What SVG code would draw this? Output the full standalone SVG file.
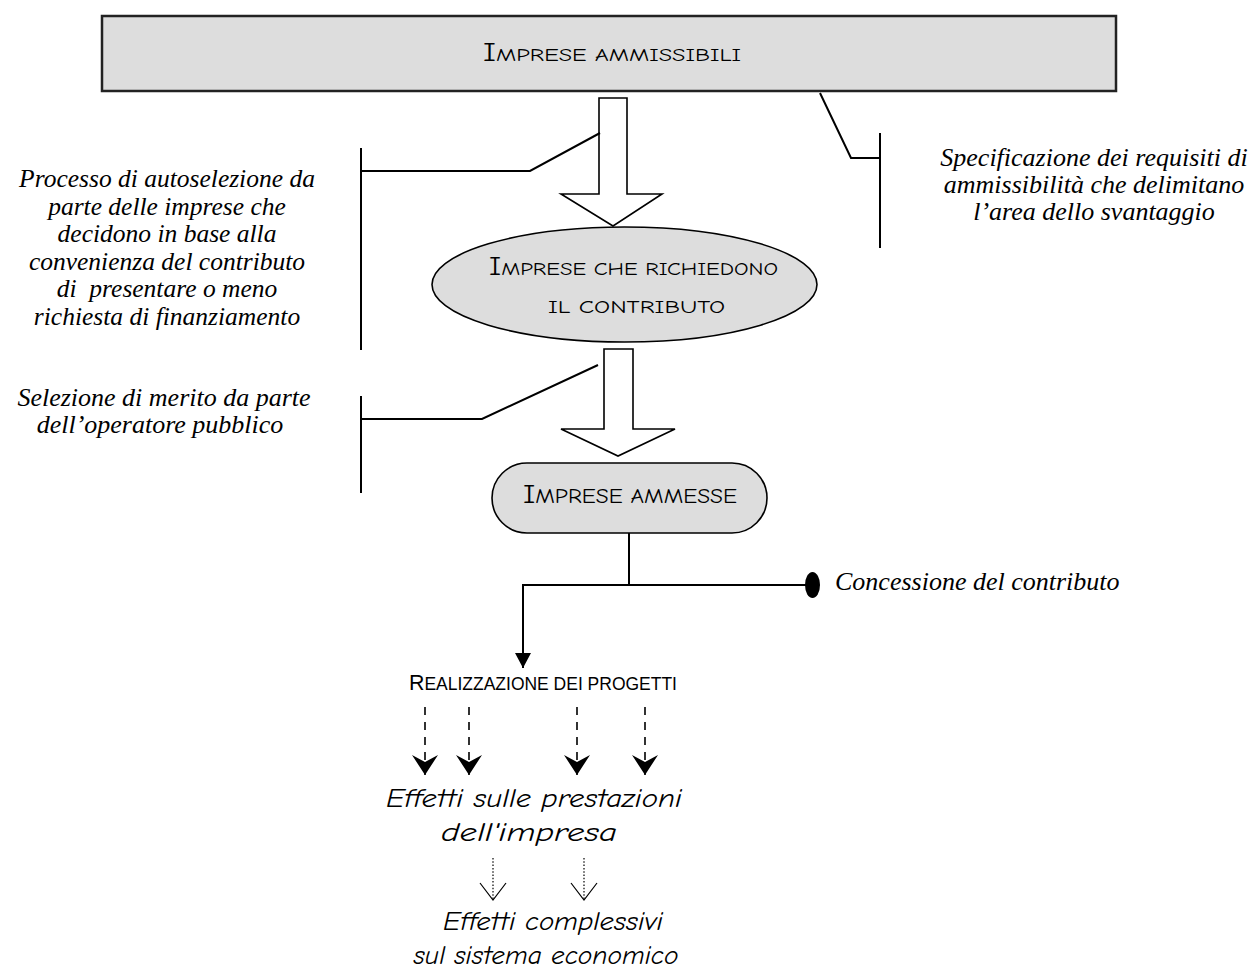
<svg xmlns="http://www.w3.org/2000/svg" width="1250" height="976" viewBox="0 0 1250 976">
<style>
.box{fill:#dddddd;stroke:#000;stroke-width:1.6}
.cap{font-family:"Comic Sans MS","Comic Neue","Open Sans",sans-serif;fill:#000}
.ser{font-family:"Liberation Serif","Times New Roman",serif;font-style:italic;font-size:26px;fill:#000}
.com{font-family:"Comic Sans MS","Comic Neue","Open Sans",sans-serif;font-style:italic;font-size:26px;fill:#000}
.nar{font-family:"Liberation Sans Narrow","Liberation Sans",Arial,sans-serif;fill:#000}
.ln{fill:none;stroke:#000;stroke-width:2}
.big{fill:#fff;stroke:#000;stroke-width:1.6;stroke-linejoin:miter}
.dash{fill:none;stroke:#000;stroke-width:1.6;stroke-dasharray:8 7}
.dot{fill:none;stroke:#000;stroke-width:1.2;stroke-dasharray:1.5 1.8}
</style>
<defs>
<marker id="tri" viewBox="0 0 15 16" refX="15" refY="8" markerWidth="15" markerHeight="16" markerUnits="userSpaceOnUse" orient="auto">
<path d="M0,0 L15,8 L0,16 z" fill="#000"/>
</marker>
<marker id="stealth" viewBox="0 0 20 26" refX="20" refY="13" markerWidth="20" markerHeight="26" markerUnits="userSpaceOnUse" orient="auto">
<path d="M0,0 L20,13 L0,26 L7,13 z" fill="#000"/>
</marker>
<marker id="vopen" viewBox="-1 -1 19 28" refX="17" refY="13" markerWidth="19" markerHeight="28" markerUnits="userSpaceOnUse" orient="auto" overflow="visible">
<path d="M0,0 L17,13 L0,26" fill="none" stroke="#000" stroke-width="1.2"/>
</marker>
</defs>
<rect width="1250" height="976" fill="#fff"/>

<g id="connectors">
<polygon class="big" points="599,98 627,98 627,194 662,194 613,226 561,194 599,194"/>
<polygon class="big" points="604,349 633,349 633,429 675,429 618,456 561,429 604,429"/>
<polyline class="ln" points="361,148 361,350"/>
<polyline class="ln" points="361,171 530,171 600,133"/>
<polyline class="ln" points="880,133 880,248"/>
<polyline class="ln" points="880,158 851,158 820,93"/>
<polyline class="ln" points="361,396 361,493"/>
<polyline class="ln" points="361,419 482,419 598,365"/>
<line class="ln" x1="629" y1="533" x2="629" y2="585"/>
<line class="ln" x1="522" y1="585" x2="806" y2="585"/>
<ellipse cx="812.5" cy="585" rx="7.5" ry="13" fill="#000"/>
<line class="ln" x1="523" y1="584" x2="523" y2="668" marker-end="url(#tri)"/>
<line class="dash" x1="425" y1="707" x2="425" y2="775" marker-end="url(#stealth)"/>
<line class="dash" x1="469" y1="707" x2="469" y2="775" marker-end="url(#stealth)"/>
<line class="dash" x1="577" y1="707" x2="577" y2="775" marker-end="url(#stealth)"/>
<line class="dash" x1="645" y1="707" x2="645" y2="775" marker-end="url(#stealth)"/>
<line class="dot" x1="493" y1="858" x2="493" y2="900" marker-end="url(#vopen)"/>
<line class="dot" x1="584" y1="858" x2="584" y2="900" marker-end="url(#vopen)"/>
</g>

<g id="imprese-ammissibili">
<rect x="102" y="16" width="1014" height="75" fill="#dddddd" stroke="#222" stroke-width="2.5"/>
<text class="cap" x="483" y="61" textLength="258" lengthAdjust="spacingAndGlyphs"><tspan font-size="26">I</tspan><tspan font-size="19">MPRESE AMMISSIBILI</tspan></text>
</g>

<g id="imprese-richiedono">
<ellipse class="box" cx="624.5" cy="284.5" rx="192.5" ry="57.5"/>
<text class="cap" x="489" y="275" textLength="289" lengthAdjust="spacingAndGlyphs"><tspan font-size="26">I</tspan><tspan font-size="19">MPRESE CHE RICHIEDONO</tspan></text>
<text class="cap" x="548" y="313" font-size="19" textLength="177" lengthAdjust="spacingAndGlyphs">IL CONTRIBUTO</text>
</g>

<g id="imprese-ammesse">
<rect class="box" x="492" y="463" width="275" height="70" rx="35" ry="35"/>
<text class="cap" x="523" y="503" textLength="214" lengthAdjust="spacingAndGlyphs"><tspan font-size="27">I</tspan><tspan font-size="20">MPRESE AMMESSE</tspan></text>
</g>

<g id="nota-autoselezione">
<text class="ser" text-anchor="middle" font-size="25.5" style="font-size:25.5px" xml:space="preserve"><tspan x="167" y="187">Processo di autoselezione da</tspan><tspan x="167" y="214.5">parte delle imprese che</tspan><tspan x="167" y="242">decidono in base alla</tspan><tspan x="167" y="269.5">convenienza del contributo</tspan><tspan x="167" y="297">di  presentare o meno</tspan><tspan x="167" y="324.5">richiesta di finanziamento</tspan></text>
</g>

<g id="nota-requisiti">
<text class="ser" text-anchor="middle"><tspan x="1094" y="166">Specificazione dei requisiti di</tspan><tspan x="1094" y="193">ammissibilità che delimitano</tspan><tspan x="1094" y="220">l’area dello svantaggio</tspan></text>
</g>

<g id="nota-selezione">
<text class="ser" text-anchor="middle"><tspan x="164" y="406">Selezione di merito da parte</tspan><tspan x="160" y="433">dell’operatore pubblico</tspan></text>
</g>

<g id="nota-concessione">
<text class="ser" x="835" y="590">Concessione del contributo</text>
</g>

<g id="realizzazione">
<text class="nar" x="409" y="690" textLength="268" lengthAdjust="spacingAndGlyphs"><tspan font-size="22">R</tspan><tspan font-size="18">EALIZZAZIONE DEI PROGETTI</tspan></text>
</g>

<g id="effetti-impresa">
<text class="com" text-anchor="middle"><tspan x="534" y="807" textLength="296" lengthAdjust="spacingAndGlyphs">Effetti sulle prestazioni</tspan><tspan x="529" y="841" textLength="176" lengthAdjust="spacingAndGlyphs">dell'impresa</tspan></text>
</g>

<g id="effetti-complessivi">
<text class="com" text-anchor="middle"><tspan x="553" y="930" textLength="220" lengthAdjust="spacingAndGlyphs">Effetti complessivi</tspan><tspan x="546" y="964" textLength="265" lengthAdjust="spacingAndGlyphs">sul sistema economico</tspan></text>
</g>
</svg>
